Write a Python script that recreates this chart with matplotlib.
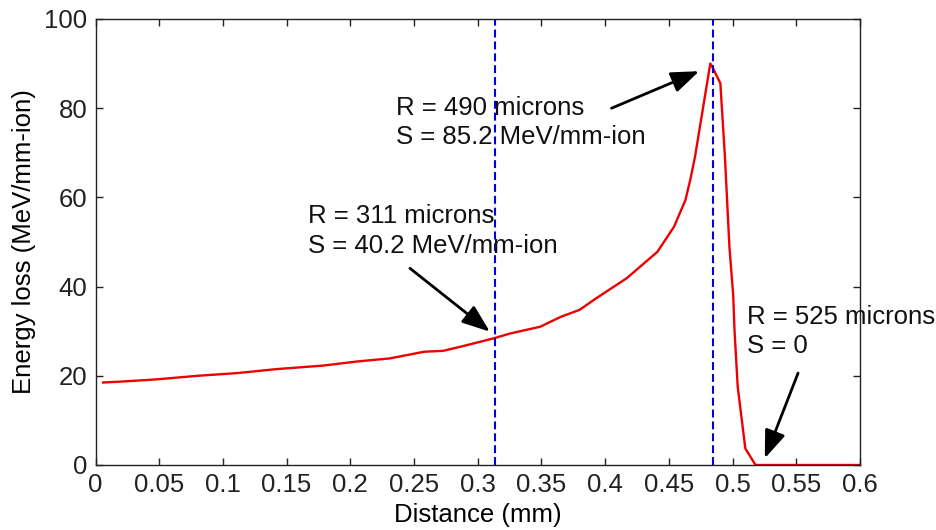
import matplotlib
matplotlib.use("Agg")
import matplotlib.pyplot as plt

# energy loss curve
dist_mm = [0.006, 0.020, 0.048, 0.080, 0.111, 0.142, 0.179, 0.205, 0.231, 0.258,
           0.273, 0.289, 0.3125, 0.3256, 0.349, 0.365, 0.380, 0.391, 0.417, 0.441,
           0.454, 0.463, 0.467, 0.4705, 0.4825, 0.4835, 0.4904, 0.494, 0.4975,
           0.5005, 0.5015, 0.504, 0.510, 0.518, 0.600]
eloss = [18.5, 18.7, 19.2, 20.0, 20.6, 21.5, 22.3, 23.2, 23.9, 25.4,
         25.6, 26.7, 28.4, 29.5, 31.0, 33.2, 34.8, 37.0, 41.9, 47.8,
         53.4, 59.4, 64.2, 69.1, 90.0, 89.6, 85.6, 69.1, 49.0,
         38.0, 30.3, 17.6, 3.7, 0.0, 0.0]

# dashed markers
vline_x = [0.3133, 0.4847]

# annotations: text, text anchor (x, y), arrow tail, arrow tip
notes = ["R = 311 microns\nS = 40.2 MeV/mm-ion",
         "R = 490 microns\nS = 85.2 MeV/mm-ion",
         "R = 525 microns\nS = 0"]
note_xy = [(0.167, 52.5), (0.2358, 76.8), (0.511, 29.9)]
arrow_tail = [(0.2468, 44.1), (0.405, 80.0), (0.5514, 20.6)]
arrow_tip = [(0.3095, 29.9), (0.4738, 88.3), (0.5253, 1.5)]

xticks = [0, 0.05, 0.1, 0.15, 0.2, 0.25, 0.3, 0.35, 0.4, 0.45, 0.5, 0.55, 0.6]
xticklabels = ["0", "0.05", "0.1", "0.15", "0.2", "0.25", "0.3", "0.35", "0.4",
               "0.45", "0.5", "0.55", "0.6"]
yticks = [0, 20, 40, 60, 80, 100]

plt.rcParams['font.family'] = ['Liberation Sans', 'DejaVu Sans']
FS = 18.5

fig = plt.figure(figsize=(9.36, 5.30), dpi=100)
ax = fig.add_axes([95.5 / 936, 1 - 465 / 530, (860 - 95.5) / 936, (465 - 19) / 530])

ax.plot(dist_mm, eloss, color='#ee0000', lw=1.7)
for xv in vline_x:
    ax.axvline(xv, color='#0000dd', lw=1.5, dashes=(3.8, 1.9))

for txt, pos, tail, tip in zip(notes, note_xy, arrow_tail, arrow_tip):
    ax.text(pos[0], pos[1], txt, fontsize=FS, ha='left', va='center',
            linespacing=1.3, color='#111111')
    ax.annotate("", xy=tip, xytext=tail,
                arrowprops=dict(arrowstyle='-|>,head_length=0.85,head_width=0.32',
                                color='black', lw=2, mutation_scale=20,
                                shrinkA=0, shrinkB=0))

ax.set_xlim(0, 0.6)
ax.set_ylim(0, 100)
ax.set_xticks(xticks)
ax.set_xticklabels(xticklabels)
ax.set_yticks(yticks)
ax.tick_params(direction='in', length=5, width=1, labelsize=FS, pad=6,
               top=True, right=True, colors='#222222')
for s in ax.spines.values():
    s.set_color('#222222')
    s.set_linewidth(1)

ax.set_xlabel("Distance (mm)", fontsize=FS, labelpad=4)
ax.set_ylabel("Energy loss (MeV/mm-ion)", fontsize=FS, labelpad=6)

fig.savefig("out.png", dpi=100, facecolor='white')
